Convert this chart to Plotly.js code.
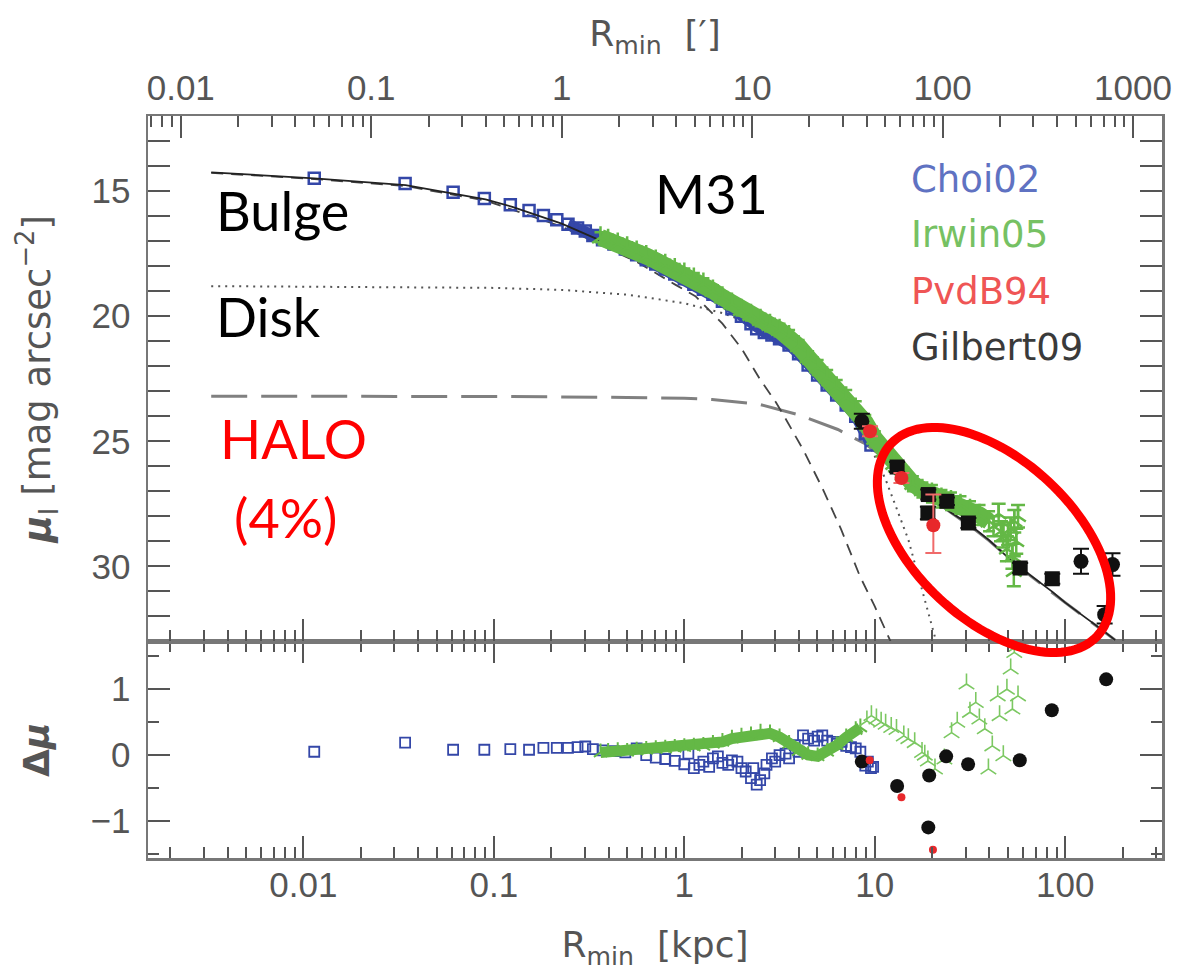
<!DOCTYPE html>
<html><head><meta charset="utf-8">
<script src="https://cdn.plot.ly/plotly-3.0.1.min.js"></script>
<style>html,body{margin:0;padding:0;background:#fff;}#chart{width:1178px;height:977px;}</style>
</head><body><div id="chart"></div>
<script>
// ---------------- model curves (R in kpc, mu in mag/arcsec^2) ----------------
const totalR  = [0.00328, 0.0114, 0.0344, 0.0597, 0.0904, 0.125, 0.189, 0.227, 0.344, 0.57, 0.9, 1.0, 1.585, 2.512, 3.98, 6.31, 7.94, 10.0, 12.6, 15.8, 20.0, 25.1, 31.6, 39.8, 50.1, 58.0, 85.0, 100, 160, 183];
const totalMu = [14.25, 14.49, 14.76, 15.09, 15.33, 15.63, 16.1, 16.3, 16.9, 17.63, 18.25, 18.35, 19.2, 20.1, 21.2, 22.8, 23.7, 24.75, 25.7, 26.6, 27.3, 27.85, 28.35, 28.95, 29.65, 30.05, 31.0, 31.45, 32.6, 32.95];

const haloR  = [0.00328, 0.01, 0.1, 0.5, 1.0, 1.4, 2.5, 4.0, 6.4, 8.9, 12.6, 15.8, 20.0, 25.1, 31.6, 39.8, 50.1, 58.0, 100, 183];
const haloMu = [23.2, 23.2, 23.21, 23.25, 23.28, 23.33, 23.53, 23.95, 24.53, 25.1, 25.95, 26.65, 27.3, 27.85, 28.38, 28.97, 29.66, 30.06, 31.45, 32.95];

const bulgeR  = [0.00328, 0.0114, 0.0344, 0.0904, 0.227, 0.57, 0.9, 1.143, 1.585, 2.0, 2.5, 3.03, 3.42, 4.25, 5.35, 6.64, 8.36, 10.0, 12.1];
const bulgeMu = [14.27, 14.52, 14.8, 15.38, 16.42, 17.85, 18.75, 19.2, 20.3, 21.3, 22.53, 23.45, 24.13, 25.4, 26.93, 28.5, 30.4, 31.6, 33.0];

const diskR  = [0.00328, 0.01, 0.1, 0.227, 0.5, 1.0, 1.585, 2.0, 3.16, 5.0, 7.94, 10.0, 11.4, 12.6, 15.0, 17.9, 20.4, 21.0];
const diskMu = [18.8, 18.82, 18.87, 18.95, 19.14, 19.48, 19.88, 20.16, 20.95, 22.2, 24.2, 25.6, 26.53, 27.4, 28.93, 31.07, 32.67, 33.0];

// ---------------- Choi02 ----------------
const choiR  = [0.0114, 0.0342, 0.0611, 0.0891, 0.122, 0.153, 0.182, 0.214, 0.245, 0.275, 0.302, 0.331, 0.372, 0.427, 0.490, 0.562, 0.631, 0.708, 0.794, 0.891, 1.0, 1.122, 1.259, 1.413, 1.585, 1.778, 1.995, 2.239, 2.399, 2.630, 2.884, 3.162, 3.548, 3.981, 4.467, 5.012, 5.623, 6.310, 7.079, 7.943, 8.913, 9.550];
const choiMu = [14.49, 14.7, 15.05, 15.3, 15.55, 15.78, 15.98, 16.15, 16.33, 16.48, 16.6, 16.78, 16.95, 17.12, 17.32, 17.55, 17.75, 17.92, 18.12, 18.32, 18.5, 18.72, 18.92, 19.12, 19.4, 19.7, 20.0, 20.3, 20.5, 20.65, 20.75, 20.9, 21.15, 21.5, 21.95, 22.35, 22.75, 23.15, 23.55, 24.0, 24.7, 25.15];
const choiResR = [0.0114, 0.0342, 0.0611, 0.0891, 0.122, 0.153, 0.182, 0.214, 0.245, 0.275, 0.302, 0.331, 0.372, 0.427, 0.49, 0.562, 0.631, 0.708, 0.794, 0.891, 1.0, 1.05, 1.122, 1.2, 1.259, 1.35, 1.413, 1.5, 1.585, 1.7, 1.778, 1.9, 1.995, 2.1, 2.239, 2.3, 2.399, 2.5, 2.63, 2.7, 2.884, 3.0, 3.162, 3.4, 3.548, 3.8, 3.981, 4.2, 4.467, 4.8, 5.012, 5.3, 5.623, 6.0, 6.31, 6.7, 7.079, 7.5, 7.943, 8.4, 8.913, 9.2, 9.55, 9.8];
const choiRes  = [0.05, 0.19, 0.08, 0.08, 0.09, 0.08, 0.11, 0.11, 0.11, 0.12, 0.13, 0.09, 0.07, 0.06, 0.04, 0.10, 0.0, -0.04, -0.06, -0.09, -0.14, 0.02, -0.2, -0.15, -0.1, -0.18, -0.05, -0.02, -0.12, -0.15, -0.08, -0.1, -0.2, -0.25, -0.35, -0.2, -0.45, -0.38, -0.28, -0.15, -0.05, -0.1, 0.0, 0.02, -0.05, 0.15, 0.05, 0.3, 0.25, 0.22, 0.28, 0.3, 0.22, 0.2, 0.17, 0.2, 0.14, 0.12, 0.1, 0.05, -0.16, -0.1, -0.2, -0.18];

// ---------------- Irwin05 ----------------
const irwinR  = [0.363, 0.398, 0.447, 0.501, 0.562, 0.631, 0.708, 0.794, 0.891, 1.0, 1.122, 1.259, 1.413, 1.585, 1.778, 1.995, 2.239, 2.512, 2.818, 3.162, 3.548, 3.981, 4.467, 5.012, 5.623, 6.310, 7.079, 7.943, 8.913, 10.0, 11.22, 12.59, 14.13, 15.85, 17.78, 19.95, 22.39, 25.12, 28.18, 31.62, 35.48, 39.81];
const irwinMu = [16.85, 16.95, 17.1, 17.25, 17.42, 17.6, 17.78, 17.95, 18.12, 18.3, 18.5, 18.7, 18.98, 19.25, 19.5, 19.75, 19.95, 20.15, 20.35, 20.55, 20.8, 21.2, 21.65, 22.05, 22.45, 22.85, 23.25, 23.7, 24.25, 24.9, 25.4, 25.9, 26.35, 26.7, 26.95, 27.1, 27.3, 27.4, 27.55, 27.75, 27.95, 28.2];
const irwinErr = [0.2, 0.2, 0.2, 0.2, 0.2, 0.2, 0.2, 0.2, 0.2, 0.2, 0.22, 0.22, 0.22, 0.22, 0.22, 0.22, 0.22, 0.25, 0.25, 0.25, 0.25, 0.25, 0.25, 0.3, 0.3, 0.3, 0.3, 0.3, 0.3, 0.3, 0.3, 0.3, 0.3, 0.3, 0.3, 0.35, 0.35, 0.35, 0.35, 0.35, 0.4, 0.4];
const irwinOutR   = [42.0, 44.7, 46.0, 47.3, 49.4, 50.1, 51.7, 52.8, 53.7, 54.0, 55.3, 56.5];
const irwinOutMu  = [28.4, 27.9, 28.6, 28.8, 29.3, 28.7, 28.5, 29.6, 30.2, 28.2, 29.0, 28.0];
const irwinOutErr = [0.4, 0.4, 0.4, 0.45, 0.5, 0.45, 0.45, 0.5, 0.6, 0.45, 0.5, 0.45];
const irwinResR = [0.363, 0.398, 0.447, 0.501, 0.562, 0.631, 0.708, 0.794, 0.891, 1.0, 1.122, 1.259, 1.413, 1.585, 1.778, 1.995, 2.239, 2.512, 2.818, 3.162, 3.548, 3.981, 4.467, 5.012, 5.623, 6.310, 7.079, 7.943, 8.4];
const irwinRes  = [0.04, 0.05, 0.06, 0.05, 0.07, 0.08, 0.09, 0.1, 0.11, 0.12, 0.13, 0.14, 0.17, 0.2, 0.25, 0.28, 0.3, 0.34, 0.33, 0.27, 0.17, 0.06, 0.0, -0.02, 0.05, 0.15, 0.27, 0.38, 0.42];
const irwinOutResR = [9.09, 9.6, 10.2, 10.8, 11.4, 12.2, 13.0, 14.2, 15.0, 16.2, 17.7, 18.3, 19.0, 20.7, 23.2, 25.3, 27.1, 30.3, 31.6, 33.9, 35.4, 37.8, 39.5, 41.4, 44.2, 45.2, 47.3, 49.4, 51.7, 52.8, 54.0, 55.3, 56.5];
const irwinOutRes  = [0.52, 0.6, 0.55, 0.5, 0.47, 0.42, 0.39, 0.29, 0.25, 0.19, 0.04, 0.0, -0.09, -0.21, -0.06, 0.34, 0.5, 1.08, 0.65, 0.8, 0.55, 0.4, -0.21, 0.14, 0.9, 0.6, -0.01, 1.0, 1.31, 0.7, 1.56, 1.65, 0.9];

// ---------------- Gilbert09 ----------------
const gilR   = [8.55, 13.1, 19.1, 19.0, 23.9, 31.0, 58.0, 85.5, 121, 161, 177];
const gilMu  = [24.2, 26.03, 27.13, 27.87, 27.4, 28.27, 30.07, 30.5, 29.8, 31.93, 29.93];
const gilErr = [0.3, 0.2, 0.2, 0.25, 0.15, 0.2, 0.2, 0.2, 0.5, 0.35, 0.45];
const gilResR = [8.55, 13.1, 19.3, 19.1, 23.7, 30.9, 57.7, 85.0, 164];
const gilRes  = [-0.10, -0.47, -0.31, -1.10, -0.02, -0.14, -0.08, 0.68, 1.15];

// ---------------- PvdB94 ----------------
const pvdR  = [9.44, 13.8, 20.3];
const pvdMu = [24.6, 26.47, 28.36];
const pvdErrPlus  = [0.2, 0.2, 1.11];
const pvdErrMinus = [0.2, 0.2, 1.23];
const pvdResR = [9.4, 13.8, 20.2];
const pvdRes  = [-0.08, -0.64, -1.44];

// ---------------- labels ----------------
const legendLabels = ['Choi02', 'Irwin05', 'PvdB94', 'Gilbert09'];

// ---------------- styling ----------------
const C_BLUE = '#3447a8', C_GREEN = '#64b846', C_RED = '#e8282b', C_BLACK = '#111111';
const LEG_COL = ['#5f72c2', '#76c163', '#ef5555', '#3a3a3a'];
const AXC = '#777', TKC = '#555';
const tickFont = {family: 'Liberation Sans, Arial, sans-serif', size: 35, color: '#555'};
const titleFont = {family: 'DejaVu Sans, sans-serif', size: 36, color: '#555'};

const PL = 148, PT = 116, PW = 1014, PH = 742;
const SPLIT = 0.2919;

const topAx = {xaxis: 'x2', yaxis: 'y2', hoverinfo: 'skip'};
const botAx = {xaxis: 'x', yaxis: 'y', hoverinfo: 'skip'};

const traces = [
  // empty trace so that the arcmin axis on top gets its subplot and is drawn
  {x: [], y: [], xaxis: 'x3', yaxis: 'y2', mode: 'markers', hoverinfo: 'skip'},
  Object.assign({x: diskR, y: diskMu, mode: 'lines', line: {color: '#555', width: 2, dash: '2px,5px'}}, topAx),
  Object.assign({x: haloR, y: haloMu, mode: 'lines', line: {color: '#808080', width: 3, dash: '36px,14px'}}, topAx),
  Object.assign({x: bulgeR, y: bulgeMu, mode: 'lines', line: {color: '#444', width: 1.8, dash: '12px,8px'}}, topAx),
  Object.assign({x: choiR.slice(8), y: choiMu.slice(8), mode: 'lines', line: {color: C_BLUE, width: 11}}, topAx),
  Object.assign({x: choiR, y: choiMu, mode: 'markers', marker: {symbol: 'square-open', size: 11, color: C_BLUE, line: {width: 2.5, color: C_BLUE}}}, topAx),
  Object.assign({x: totalR, y: totalMu, mode: 'lines', line: {color: '#222', width: 1.8}}, topAx),
  Object.assign({x: irwinR, y: irwinMu, mode: 'lines+markers', line: {color: C_GREEN, width: 17},
    marker: {symbol: 'y-up', size: 14, color: C_GREEN, line: {width: 2.5, color: C_GREEN}},
    error_y: {type: 'data', array: irwinErr, color: C_GREEN, thickness: 2.5, width: 6}}, topAx),
  Object.assign({x: irwinOutR, y: irwinOutMu, mode: 'markers',
    marker: {symbol: 'y-up', size: 13, color: C_GREEN, line: {width: 2.5, color: C_GREEN}},
    error_y: {type: 'data', array: irwinOutErr, color: C_GREEN, thickness: 2.5, width: 7}}, topAx),
  Object.assign({x: gilR, y: gilMu, mode: 'markers',
    marker: {symbol: ['circle', 'square', 'square', 'square', 'square', 'square', 'square', 'square', 'circle', 'circle', 'circle'], size: 15, color: C_BLACK},
    error_y: {type: 'data', array: gilErr, color: C_BLACK, thickness: 2, width: 8}}, topAx),
  Object.assign({x: pvdR, y: pvdMu, mode: 'markers', marker: {symbol: 'circle', size: 14, color: C_RED},
    error_y: {type: 'data', array: pvdErrPlus, arrayminus: pvdErrMinus, color: '#f06a6a', thickness: 2, width: 8}}, topAx),

  Object.assign({x: choiResR, y: choiRes, mode: 'markers', marker: {symbol: 'square-open', size: 10, color: C_BLUE, line: {width: 1.8, color: C_BLUE}}}, botAx),
  Object.assign({x: irwinResR, y: irwinRes, mode: 'lines+markers', line: {color: C_GREEN, width: 11},
    marker: {symbol: 'y-up', size: 11, color: C_GREEN, line: {width: 2, color: C_GREEN}}}, botAx),
  Object.assign({x: irwinOutResR, y: irwinOutRes, mode: 'markers',
    marker: {symbol: 'y-up', size: 13, color: C_GREEN, line: {width: 1.6, color: '#7cc862'}}}, botAx),
  Object.assign({x: gilResR, y: gilRes, mode: 'markers', marker: {symbol: 'circle', size: 14, color: C_BLACK}}, botAx),
  Object.assign({x: pvdResR, y: pvdRes, mode: 'markers', marker: {symbol: 'circle', size: 8, color: C_RED}}, botAx)
];

// red ellipse highlighting the halo region (pixel geometry converted to paper coords)
function ellipsePath(cx, cy, a, b, deg) {
  const t = deg * Math.PI / 180, pts = [];
  for (let i = 0; i <= 120; i++) {
    const u = 2 * Math.PI * i / 120;
    const ex = a * Math.cos(u), ey = b * Math.sin(u);
    const px = cx + ex * Math.cos(t) - ey * Math.sin(t);
    const py = cy + ex * Math.sin(t) + ey * Math.cos(t);
    pts.push(((px - PL) / PW).toFixed(5) + ',' + ((PT + PH - py) / PH).toFixed(5));
  }
  return 'M' + pts.join('L') + 'Z';
}

const logMinor = {ticks: 'inside', ticklen: 11, tickwidth: 2, tickcolor: TKC, dtick: 'D1', showgrid: false};
const commonX = {type: 'log', dtick: 1, exponentformat: 'none', ticks: 'inside', ticklen: 22, tickwidth: 2, tickcolor: TKC,
  minor: logMinor, showline: true, linecolor: AXC, linewidth: 2.5, showgrid: false, zeroline: false, tickfont: tickFont,
  ticklabelposition: 'outside'};

function px2paperX(px) { return (px - PL) / PW; }
function px2paperY(py) { return (PT + PH - py) / PH; }
const annFont = (c) => ({family: 'Lato, Open Sans, sans-serif', size: 54, color: c});

const annotations = [
  {text: 'Bulge', x: px2paperX(214), y: px2paperY(211), font: annFont('#000')},
  {text: 'Disk', x: px2paperX(214), y: px2paperY(316), font: annFont('#000')},
  {text: 'M31', x: px2paperX(653), y: px2paperY(193), font: annFont('#000')},
  {text: 'HALO', x: px2paperX(218), y: px2paperY(438), font: annFont('#ff0000')},
  {text: '(4%)', x: px2paperX(232), y: px2paperY(517), font: annFont('#ff0000')}
].concat(legendLabels.map((t, i) => ({
  text: t, x: px2paperX(909), y: px2paperY(179 + 56 * i),
  font: {family: 'DejaVu Sans, sans-serif', size: 37, color: LEG_COL[i]}
}))).map(a => Object.assign({xref: 'paper', yref: 'paper', xanchor: 'left', yanchor: 'middle', showarrow: false}, a));

const layout = {
  width: 1178, height: 977,
  margin: {l: PL, r: 1178 - PL - PW, t: PT, b: 977 - PT - PH},
  paper_bgcolor: '#fff', plot_bgcolor: '#fff', showlegend: false,
  xaxis: Object.assign({}, commonX, {range: [-2.816, 2.508], anchor: 'y', mirror: 'allticks', ticklabelstandoff: -6,
    title: {text: 'R<sub>min</sub>  [kpc]', font: titleFont, standoff: 30}}),
  xaxis2: Object.assign({}, commonX, {matches: 'x', anchor: 'y2', showticklabels: false}),
  xaxis3: Object.assign({}, commonX, {range: [-2.172, 3.152], overlaying: 'x2', anchor: 'y2', side: 'top', ticklabelstandoff: 0,
    title: {text: 'R<sub>min</sub>  [′]', font: titleFont, standoff: 10}}),
  yaxis: {domain: [0, SPLIT], range: [-1.565, 1.727], dtick: 1, tick0: 0, ticks: 'inside', ticklen: 22, tickwidth: 2, tickcolor: TKC,
    minor: {ticks: 'inside', ticklen: 11, tickwidth: 2, tickcolor: TKC, dtick: 0.5, tick0: 0, showgrid: false},
    showline: true, linecolor: AXC, linewidth: 2.5, mirror: 'allticks', showgrid: false, zeroline: false, tickfont: tickFont,
    ticklabelposition: 'outside', ticklabelstandoff: 8, title: {text: '<b>Δ<i>μ</i></b>', font: titleFont, standoff: 30}},
  yaxis2: {domain: [SPLIT, 1], range: [33, 12], dtick: 5, tick0: 0, ticks: 'inside', ticklen: 22, tickwidth: 2, tickcolor: TKC,
    minor: {ticks: 'inside', ticklen: 11, tickwidth: 2, tickcolor: TKC, dtick: 1, tick0: 0, showgrid: false},
    showline: true, linecolor: AXC, linewidth: 2.5, mirror: 'allticks', showgrid: false, zeroline: false, tickfont: tickFont,
    ticklabelposition: 'outside', ticklabelstandoff: 8, title: {text: '<b><i>μ</i></b><sub>I</sub> [mag arcsec<sup>−2</sup>]', font: {family: 'DejaVu Sans, sans-serif', size: 37, color: '#555'}, standoff: 30}},
  annotations: annotations,
  shapes: [{type: 'path', xref: 'paper', yref: 'paper', path: ellipsePath(994, 540, 141, 80, 43),
    line: {color: '#ff0000', width: 9}, fillcolor: 'rgba(0,0,0,0)', layer: 'above'}]
};

Plotly.newPlot('chart', traces, layout, {staticPlot: true});
</script></body></html>
